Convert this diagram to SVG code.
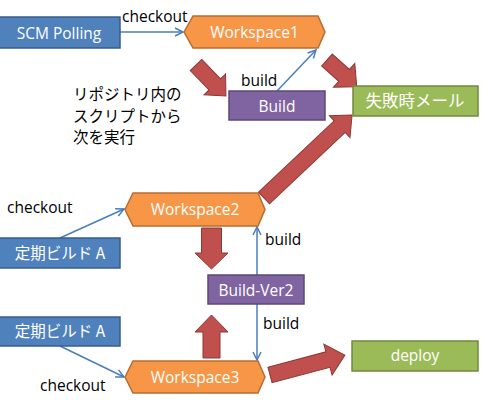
<svg xmlns="http://www.w3.org/2000/svg" width="494" height="400" viewBox="0 0 494 400">
<style>
.blue{fill:#4F81BD;stroke:#385D8A;stroke-width:1.5}
.orange{fill:#F79646;stroke:#B66D31;stroke-width:1.5}
.purple{fill:#8064A2;stroke:#5C4776;stroke-width:1.5}
.green{fill:#9BBB59;stroke:#71893F;stroke-width:1.5}
.big{fill:#C0504D;stroke:#8C3836;stroke-width:1}
.wt{font-family:"Open Sans","Liberation Sans",sans-serif;font-size:15.5px;fill:#FFFFFF;text-anchor:middle}
.wj{font-family:"Open Sans","Noto Sans CJK JP",sans-serif;font-size:15.5px;fill:#FFFFFF;text-anchor:middle}
.lb{font-family:"Open Sans","Liberation Sans",sans-serif;font-size:15.5px;fill:#000000}
.jp{font-family:"Noto Sans CJK JP",sans-serif;font-size:15.5px;fill:#000000}
.ln{fill:none;stroke:#4A7EBB;stroke-width:1.5;marker-end:url(#ah)}
</style>
<defs>
<marker id="ah" markerUnits="userSpaceOnUse" markerWidth="12" markerHeight="12" refX="9" refY="5" orient="auto">
<path d="M1,1 L9,5 L1,9" fill="none" stroke="#4A7EBB" stroke-width="1.5"/>
</marker>
</defs>
<g id="connectors">
<line class="ln" x1="120" y1="32" x2="183" y2="32"/>
<line class="ln" x1="277" y1="91" x2="316" y2="50"/>
<line class="ln" x1="60" y1="238" x2="124" y2="209"/>
<line class="ln" x1="257" y1="275" x2="257" y2="227"/>
<line class="ln" x1="257" y1="304" x2="257" y2="360"/>
<line class="ln" x1="60" y1="346" x2="124" y2="377"/>
<polygon class="big" transform="translate(196,65) rotate(45.9)" points="0,-8 27,-8 27,-15 43,0 27,15 27,8 0,8"/>
<polygon class="big" transform="translate(327,60) rotate(42)" points="0,-8 23,-8 23,-16 40,0 23,16 23,8 0,8"/>
<polygon class="big" transform="translate(264,198) rotate(-43.3)" points="0,-8 104,-8 104,-15 121,0 104,15 104,8 0,8"/>
<polygon class="big" transform="translate(270,375) rotate(-14.9)" points="0,-8 60,-8 60,-16 77.5,0 60,16 60,8 0,8"/>
<polygon class="big" transform="translate(211.5,228) rotate(90)" points="0,-10 25,-10 25,-16.5 41,0 25,16.5 25,10 0,10"/>
<polygon class="big" transform="translate(211.5,358) rotate(-90)" points="0,-8.5 26,-8.5 26,-16.5 43,0 26,16.5 26,8.5 0,8.5"/>
</g>
<g id="scm">
<rect class="blue" x="-1" y="17" width="121" height="31"/>
<text class="wt" x="59" y="38.5">SCM Polling</text>
</g>
<g id="workspace1">
<polygon class="orange" points="184,32 193,16 318,16 325,32 318,48 193,48"/>
<text class="wt" x="254.5" y="37.5">Workspace1</text>
</g>
<g id="build">
<rect class="purple" x="229" y="91" width="96" height="29"/>
<text class="wt" x="277" y="111.5">Build</text>
</g>
<g id="mail">
<rect class="green" x="353" y="86" width="125" height="30"/>
<text class="wj" x="415" y="107" style="font-family:'Noto Sans CJK JP',sans-serif;font-size:16.5px">失敗時メール</text>
</g>
<g id="workspace2">
<polygon class="orange" points="125,209.5 133,193 258,193 265,209.5 258,226 133,226"/>
<text class="wt" x="195" y="215">Workspace2</text>
</g>
<g id="teiki1">
<rect class="blue" x="-1" y="238" width="121" height="30"/>
<text class="wj" x="60" y="259" style="font-family:'Noto Sans CJK JP',sans-serif">定期ビルド A</text>
</g>
<g id="buildver2">
<rect class="purple" x="208" y="275" width="96" height="29"/>
<text class="wt" x="256" y="295.5">Build-Ver2</text>
</g>
<g id="teiki2">
<rect class="blue" x="-1" y="317" width="121" height="29"/>
<text class="wj" x="60" y="337" style="font-family:'Noto Sans CJK JP',sans-serif">定期ビルド A</text>
</g>
<g id="workspace3">
<polygon class="orange" points="125,377 133,361 258,361 265,377 258,393 133,393"/>
<text class="wt" x="195" y="382.5">Workspace3</text>
</g>
<g id="deploy">
<rect class="green" x="352" y="341" width="126" height="30"/>
<text class="wt" x="415" y="361">deploy</text>
</g>
<g id="labels">
<text class="lb" x="122" y="22">checkout</text>
<text class="lb" x="241" y="86">build</text>
<text class="lb" x="7" y="213">checkout</text>
<text class="lb" x="265" y="245">build</text>
<text class="lb" x="263" y="329">build</text>
<text class="lb" x="40" y="391">checkout</text>
<text class="jp" x="73" y="100">リポジトリ内の</text>
<text class="jp" x="73" y="122">スクリプトから</text>
<text class="jp" x="73" y="143">次を実行</text>
</g>
</svg>
